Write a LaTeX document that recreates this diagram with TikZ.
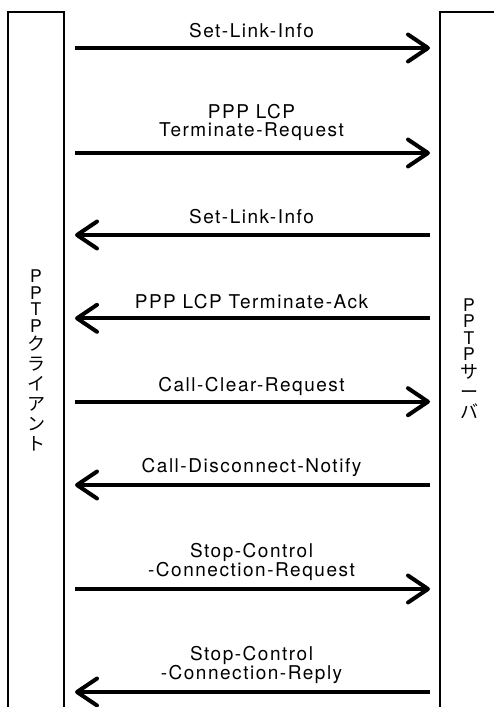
\documentclass[tikz,border=0pt]{standalone}
\usepackage{fontspec}
\setmainfont{TeX Gyre Heros}[LetterSpace=8]
\newfontfamily\sidefont{TeX Gyre Heros}
\newfontfamily\cjk{Noto Sans CJK JP}
\usetikzlibrary{arrows.meta}

% one row of a vertical caption: #1 = distance from the previous baseline
\newcommand\stackrow[2]{\hbox to 24pt{\vrule height #1 depth 0pt width 0pt\hss\smash{#2}\hss}}
\newcommand\latinrow[2][16.5pt]{\stackrow{#1}{\sidefont\fontsize{17.5}{17.5}\selectfont #2}}
\newcommand\kanarow[2][20pt]{\stackrow{#1}{\cjk\fontsize{18}{18}\selectfont #2}}

\tikzset{
  lifeline/.style={line width=1.8pt},
  msg/.style={line width=4pt,
    -{Straight Barb[length=20pt,width=27pt,line cap=round,line join=round]}},
  lbl/.style={font=\fontsize{19}{19.5}\selectfont, align=center,
    anchor=south, inner sep=0pt, text depth=0pt},
  side/.style={anchor=north, inner sep=0pt},
}

\begin{document}
\begin{tikzpicture}[x=1pt,y=-1pt]
\useasboundingbox (0,0) rectangle (494,707);

% client and server columns (open at the bottom)
\draw[lifeline] (8,707) |- (64,12) -- (64,707);
\draw[lifeline] (440,707) |- (494,12);

\node[side] (client) at (36,270) {\vbox{\offinterlineskip
  \latinrow[12.6pt]{P}\latinrow{P}\latinrow{T}\latinrow{P}%
  \kanarow[18pt]{ク}\kanarow{ラ}\kanarow{イ}\kanarow{ア}\kanarow{ン}\kanarow{ト}}};
\node[side] (server) at (469,298.3) {\vbox{\offinterlineskip
  \latinrow[12.6pt]{P}\latinrow{P}\latinrow{T}\latinrow{P}%
  \kanarow[18pt]{サ}\kanarow{ー}\kanarow{バ}}};

% message end points on both columns
\foreach \i/\y in {1/48,2/153,3/235,4/318.3,5/401.7,6/485,7/589,8/692}{
  \coordinate (c\i) at (75,\y);
  \coordinate (s\i) at (430,\y);
}

% messages
\draw[msg] (c1) -- (s1);
\node[lbl] (m1) at (251.5,37.7) {Set-Link-Info};

\draw[msg] (c2) -- (s2);
\node[lbl,font=\fontsize{19}{18.4}\selectfont] (m2) at (251.5,136.7) {PPP LCP\\Terminate-Request};

\draw[msg] (s3) -- (c3);
\node[lbl] (m3) at (251.5,224) {Set-Link-Info};

\draw[msg] (s4) -- (c4);
\node[lbl] (m4) at (251.5,308.3) {PPP LCP Terminate-Ack};

\draw[msg] (c5) -- (s5);
\node[lbl] (m5) at (251.5,391.7) {Call-Clear-Request};

\draw[msg] (s6) -- (c6);
\node[lbl] (m6) at (251.5,472.7) {Call-Disconnect-Notify};

\draw[msg] (c7) -- (s7);
\node[lbl] (m7) at (251.5,577) {Stop-Control\\-Connection-Request};

\draw[msg] (s8) -- (c8);
\node[lbl] (m8) at (251.5,680) {Stop-Control\\-Connection-Reply};
\end{tikzpicture}
\end{document}
